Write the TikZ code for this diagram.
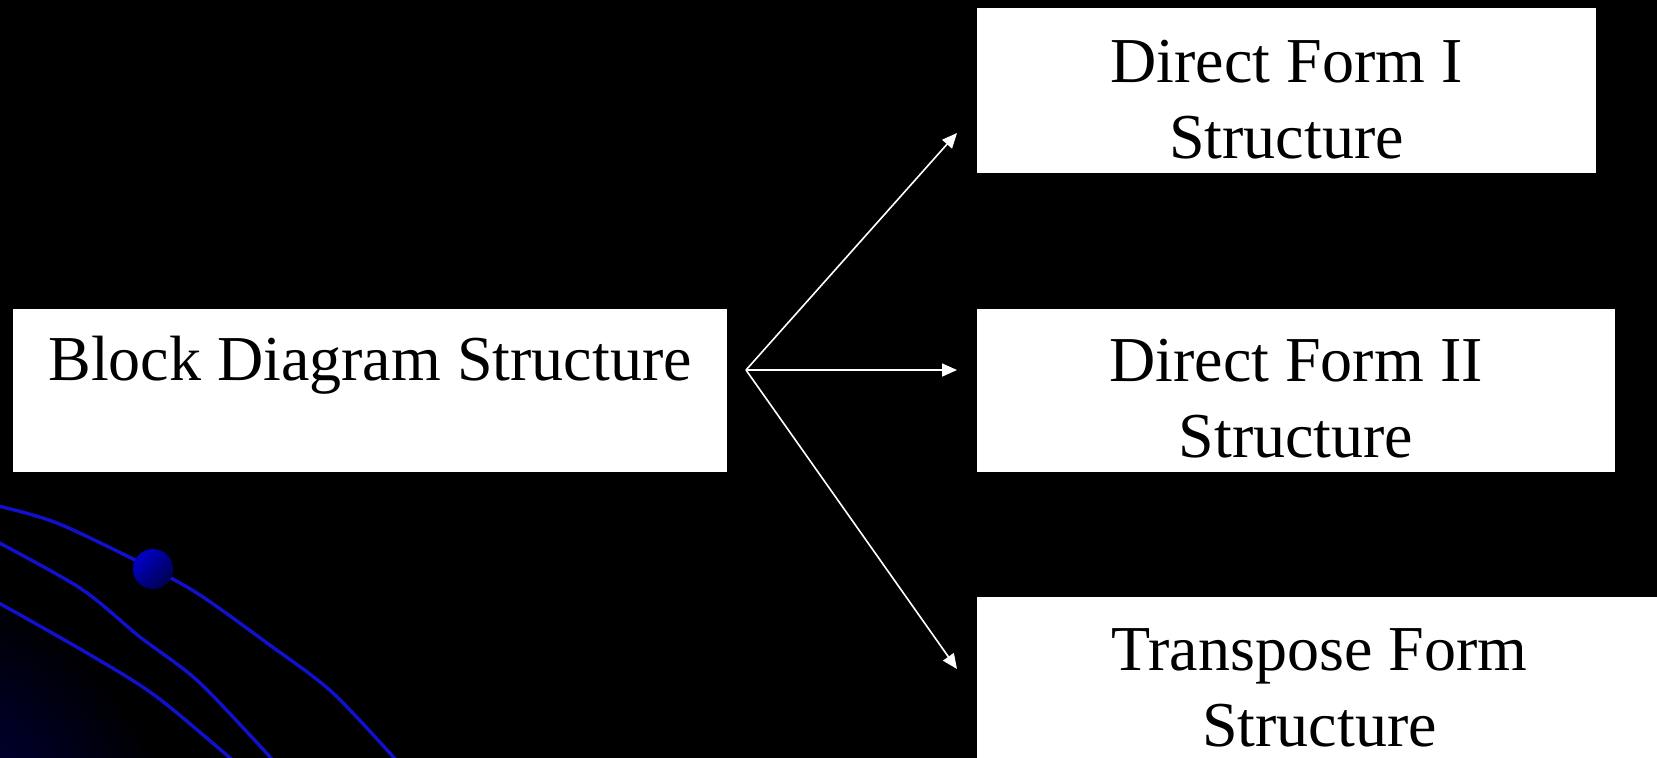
\documentclass[tikz,border=0pt]{standalone}
\usepackage{fontspec}
\setmainfont{Liberation Serif}
\usetikzlibrary{arrows.meta}
\definecolor{orbitblue}{RGB}{16,16,205}
\definecolor{glowblue}{RGB}{0,0,115}
\definecolor{balllight}{RGB}{0,0,200}
\definecolor{balldark}{RGB}{0,0,80}
\begin{document}
\begin{tikzpicture}[x=0.5pt,y=-0.5pt,
  box/.style={fill=white,draw=none,inner sep=0pt},
  lbl/.style={font=\fontsize{32}{38}\selectfont,text=black,anchor=base,inner sep=0pt},
  conn/.style={draw=white,line width=0.8pt,-{Triangle[length=7.5pt,width=6.5pt]}},
  orbit/.style={draw=orbitblue,line width=1.7pt}]
\useasboundingbox (0,0) rectangle (1657,757);
\fill[black] (-10,-10) rectangle (1667,767);
\begin{scope}
\clip (-10,-10) rectangle (1667,767);
\shade[inner color=glowblue, outer color=black] (-150,900) circle (340);
\draw[orbit] plot[smooth] coordinates {(-10,504) (57,523) (153,569) (200,595) (267,643) (333,693) (405,770)};
\draw[orbit] plot[smooth] coordinates {(-10,538) (80,588) (140,637) (200,683) (282,770)};
\draw[orbit] plot[smooth] coordinates {(-10,598) (87,653) (157,697) (244,770)};
\shade[left color=balllight, right color=balldark, shading angle=45] (153,569) circle (20);
\end{scope}
% boxes
\node[box, minimum width=357pt, minimum height=81.5pt] (bd) at (370,390.5) {};
\node[box, minimum width=309.5pt, minimum height=82.5pt] (b1) at (1286.5,90.5) {};
\node[box, minimum width=319pt, minimum height=81.5pt] (b2) at (1296,390.5) {};
\node[box, minimum width=342.5pt, minimum height=87.5pt] (b3) at (1319.5,684.5) {};
% labels
\node[lbl] (t0) at (370,380.5) {Block Diagram Structure};
\node[lbl] (t1a) at (1286.5,82) {Direct Form I};
\node[lbl] (t1b) at (1286.5,158) {Structure};
\node[lbl] (t2a) at (1296,381.5) {Direct Form II};
\node[lbl] (t2b) at (1296,457) {Structure};
\node[lbl] (t3a) at (1319.5,670) {Transpose Form};
\node[lbl] (t3b) at (1319.5,746) {Structure};
% connectors
\coordinate (src) at (746,370);
\coordinate (e1) at (957,133);
\coordinate (e2) at (957,370);
\coordinate (e3) at (957,669);
\draw[conn] (src) -- (e1);
\draw[conn] (src) -- (e2);
\draw[conn] (src) -- (e3);
\end{tikzpicture}
\end{document}
